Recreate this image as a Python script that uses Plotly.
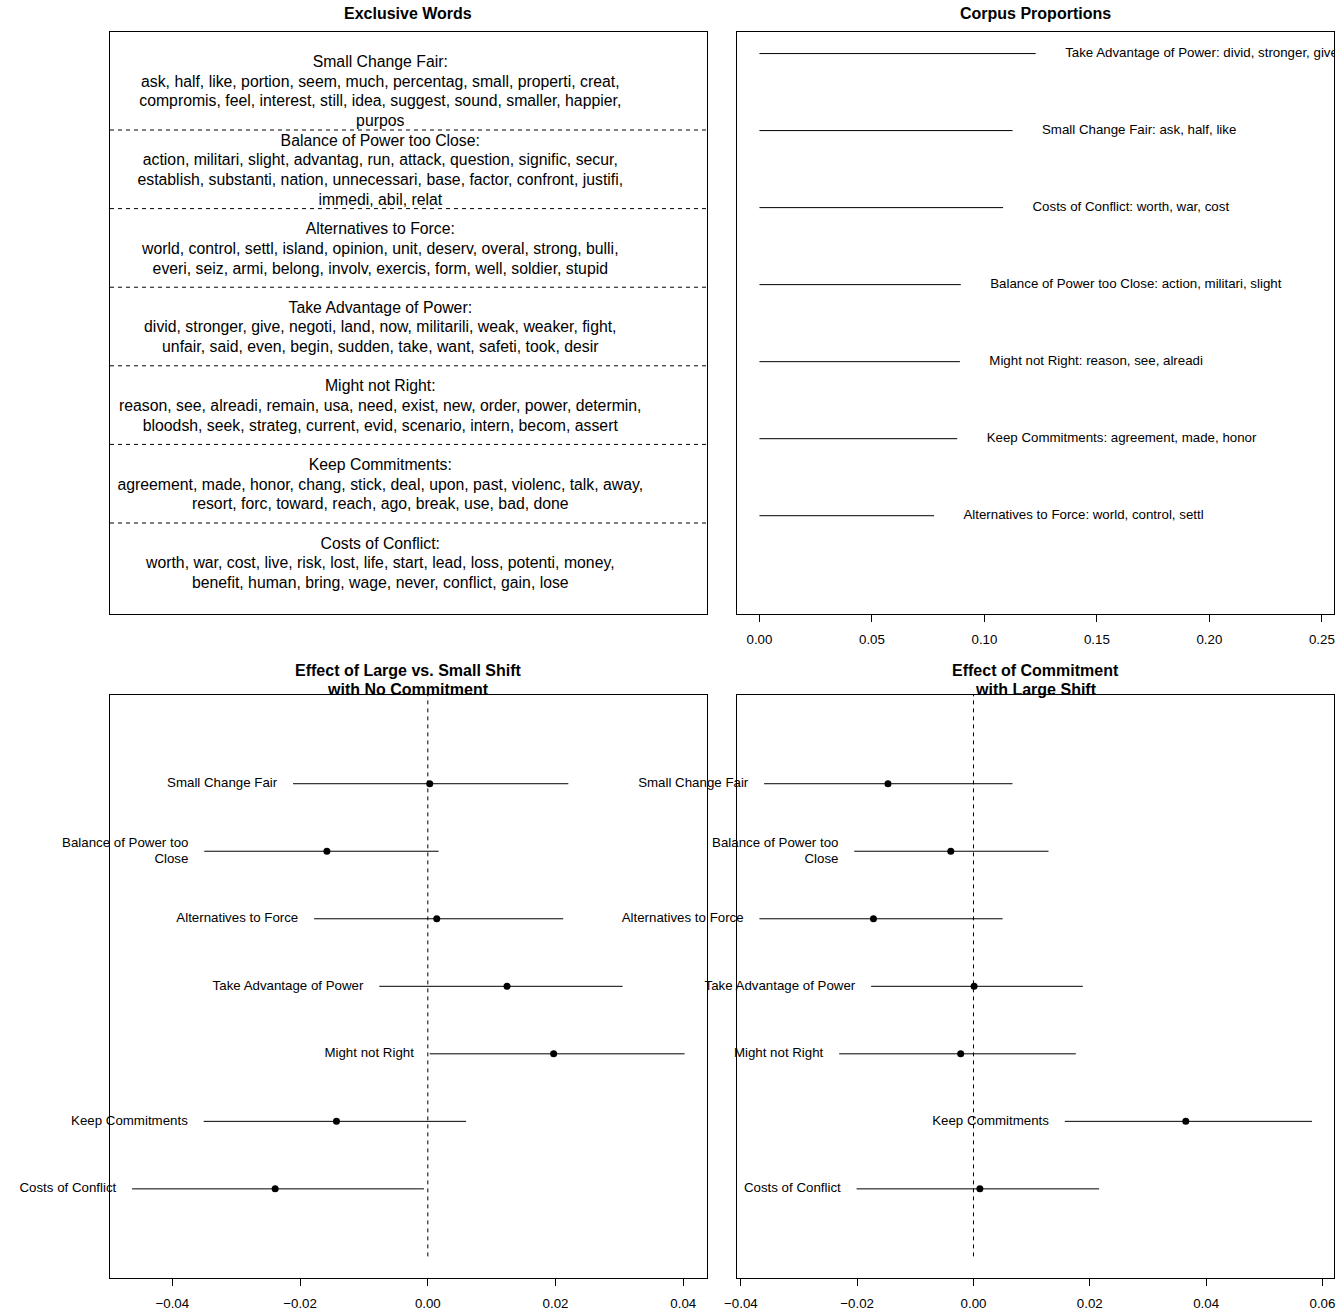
import textwrap
import plotly.graph_objects as go

# ---------------------------------------------------------------- data
topics = ["Small Change Fair", "Balance of Power too Close", "Alternatives to Force",
          "Take Advantage of Power", "Might not Right", "Keep Commitments",
          "Costs of Conflict"]

words_small_change = ["ask", "half", "like", "portion", "seem", "much", "percentag", "small",
                      "properti", "creat", "compromis", "feel", "interest", "still", "idea",
                      "suggest", "sound", "smaller", "happier", "purpos"]
words_balance = ["action", "militari", "slight", "advantag", "run", "attack", "question",
                 "signific", "secur", "establish", "substanti", "nation", "unnecessari", "base",
                 "factor", "confront", "justifi", "immedi", "abil", "relat"]
words_alternatives = ["world", "control", "settl", "island", "opinion", "unit", "deserv",
                      "overal", "strong", "bulli", "everi", "seiz", "armi", "belong", "involv",
                      "exercis", "form", "well", "soldier", "stupid"]
words_take_advantage = ["divid", "stronger", "give", "negoti", "land", "now", "militarili",
                        "weak", "weaker", "fight", "unfair", "said", "even", "begin", "sudden",
                        "take", "want", "safeti", "took", "desir"]
words_might = ["reason", "see", "alreadi", "remain", "usa", "need", "exist", "new", "order",
               "power", "determin", "bloodsh", "seek", "strateg", "current", "evid",
               "scenario", "intern", "becom", "assert"]
words_keep = ["agreement", "made", "honor", "chang", "stick", "deal", "upon", "past", "violenc",
              "talk", "away", "resort", "forc", "toward", "reach", "ago", "break", "use", "bad",
              "done"]
words_costs = ["worth", "war", "cost", "live", "risk", "lost", "life", "start", "lead", "loss",
               "potenti", "money", "benefit", "human", "bring", "wage", "never", "conflict",
               "gain", "lose"]
topic_words = [words_small_change, words_balance, words_alternatives, words_take_advantage,
               words_might, words_keep, words_costs]

# expected topic proportions over the corpus (same order as `topics`)
corpus_prop = [0.1125, 0.0895, 0.0776, 0.1228, 0.0891, 0.0879, 0.1083]

# effect of large vs. small shift, no commitment
shift_est = [0.0003, -0.0158, 0.0014, 0.0124, 0.0197, -0.0143, -0.0239]
shift_lo = [-0.0211, -0.0350, -0.0178, -0.0076, 0.0003, -0.0351, -0.0463]
shift_hi = [0.0220, 0.0017, 0.0212, 0.0305, 0.0402, 0.0060, -0.0006]

# effect of commitment, large shift
commit_est = [-0.0147, -0.0039, -0.0172, 0.0001, -0.0022, 0.0365, 0.0011]
commit_lo = [-0.0360, -0.0205, -0.0368, -0.0176, -0.0231, 0.0157, -0.0201]
commit_hi = [0.0067, 0.0129, 0.0050, 0.0188, 0.0176, 0.0582, 0.0216]

prop_ticks = [0.00, 0.05, 0.10, 0.15, 0.20, 0.25]
effect_ticks_shift = [-0.04, -0.02, 0.00, 0.02, 0.04]
effect_ticks_commit = [-0.04, -0.02, 0.00, 0.02, 0.04, 0.06]

# ---------------------------------------------------------------- layout geometry (px)
W, H = 1342, 1316
COL_L = (98, 701)
COL_R = (732, 1335)
ROW_T = (32, 614.3)
ROW_B = (694.6, 1278)
FONT = "Liberation Sans, Arial, Helvetica, sans-serif"
BASE = 13.3
K = len(topics)


def xdom(c):
    return [c[0] / W, c[1] / W]


def ydom(r):
    return [1 - r[1] / H, 1 - r[0] / H]


def pad_range(lo, hi, frac=0.04):
    d = (hi - lo) * frac
    return [lo - d, hi + d]


fig = go.Figure()

# ---------------------------------------------------------------- top-left: exclusive words
TL_YR = [-0.1616, 7.247]
tl_ppu = (ROW_T[1] - ROW_T[0]) / (TL_YR[1] - TL_YR[0])
LINE_PX = 19.7
WORD_SIZE = 15.8
tx, ty, tt = [], [], []
for i, (name, words) in enumerate(zip(topics, topic_words)):
    lines = [name + ":"] + textwrap.wrap(", ".join(words), width=77)
    centre = K - i - 0.5 - 2 / tl_ppu
    n = len(lines)
    for j, ln in enumerate(lines):
        tx.append(0.453)
        ty.append(centre + ((n - 1) / 2 - j) * LINE_PX / tl_ppu)
        tt.append(ln)
fig.add_trace(go.Scatter(x=tx, y=ty, text=tt, mode="text", textposition="middle center",
                         textfont=dict(size=WORD_SIZE, color="black", family=FONT),
                         hoverinfo="skip", xaxis="x", yaxis="y", showlegend=False))
for k in range(1, K):
    fig.add_shape(type="line", xref="x domain", yref="y", x0=0, x1=1, y0=k, y1=k,
                  line=dict(color="black", width=1, dash="4px,4px"))

# ---------------------------------------------------------------- top-right: corpus proportions
order = sorted(range(K), key=lambda i: corpus_prop[i])  # smallest at the bottom
TR_XR = pad_range(0, 2 * max(corpus_prop))
tr_ppu = (COL_R[1] - COL_R[0]) / (TR_XR[1] - TR_XR[0])
sx, sy = [], []
lx, ly, lt = [], [], []
for pos, i in enumerate(order, start=1):
    sx += [0, corpus_prop[i], None]
    sy += [pos, pos, None]
    lx.append(corpus_prop[i] + 0.01 + 7 / tr_ppu)
    ly.append(pos)
    lt.append(f"{topics[i]}: " + ", ".join(topic_words[i][:3]))
fig.add_trace(go.Scatter(x=sx, y=sy, mode="lines", line=dict(color="black", width=1),
                         hoverinfo="skip", xaxis="x2", yaxis="y2", showlegend=False))
fig.add_trace(go.Scatter(x=lx, y=ly, text=lt, mode="text", textposition="middle right",
                         cliponaxis=True,
                         textfont=dict(size=BASE, color="black", family=FONT),
                         hoverinfo="skip", xaxis="x2", yaxis="y2", showlegend=False))

# ---------------------------------------------------------------- bottom: effect plots
EFF_YR = [-0.32, K + 1.32]
eff_ppu_y = (ROW_B[1] - ROW_B[0]) / (EFF_YR[1] - EFF_YR[0])
LABEL_LINE_PX = 16


def effect_panel(est, lo, hi, xa, ya, col):
    xr = pad_range(min(lo), max(hi))
    ppu = (col[1] - col[0]) / (xr[1] - xr[0])
    ys = [K - i for i in range(K)]
    # reference line at zero
    fig.add_trace(go.Scatter(x=[0, 0], y=[0, K + 2], mode="lines",
                             line=dict(color="black", width=1, dash="4px,4px"),
                             hoverinfo="skip", xaxis=xa, yaxis=ya, showlegend=False))
    cx, cy = [], []
    for i in range(K):
        cx += [lo[i], hi[i], None]
        cy += [ys[i], ys[i], None]
    fig.add_trace(go.Scatter(x=cx, y=cy, mode="lines", line=dict(color="black", width=1),
                             hoverinfo="skip", xaxis=xa, yaxis=ya, showlegend=False))
    fig.add_trace(go.Scatter(x=est, y=ys, mode="markers",
                             marker=dict(color="black", size=7),
                             hoverinfo="skip", xaxis=xa, yaxis=ya, showlegend=False))
    # topic labels, wrapped and right-aligned to the left end of each interval
    gx, gy, gt = [], [], []
    for i in range(K):
        parts = textwrap.wrap(topics[i], width=24)
        n = len(parts)
        for j, p in enumerate(parts):
            gx.append(lo[i] - 16 / ppu)
            gy.append(ys[i] + ((n - 1) / 2 - j) * LABEL_LINE_PX / eff_ppu_y)
            gt.append(p)
    fig.add_trace(go.Scatter(x=gx, y=gy, text=gt, mode="text", textposition="middle left",
                             cliponaxis=False,
                             textfont=dict(size=BASE, color="black", family=FONT),
                             hoverinfo="skip", xaxis=xa, yaxis=ya, showlegend=False))
    return xr


BL_XR = effect_panel(shift_est, shift_lo, shift_hi, "x3", "y3", COL_L)
BR_XR = effect_panel(commit_est, commit_lo, commit_hi, "x4", "y4", COL_R)

# ---------------------------------------------------------------- axes
box = dict(showline=True, mirror=True, linecolor="black", linewidth=1, showgrid=False,
           zeroline=False, fixedrange=True)
noticks = dict(ticks="", showticklabels=False)
xticks = dict(ticks="outside", ticklen=7, tickwidth=1, tickcolor="black",
              tickformat=".2f", ticklabelstandoff=6,
              tickfont=dict(size=BASE, color="black", family=FONT))

fig.update_layout(
    width=W, height=H, margin=dict(l=0, r=0, t=0, b=0),
    paper_bgcolor="white", plot_bgcolor="white",
    font=dict(family=FONT, color="black"),
    xaxis=dict(domain=xdom(COL_L), range=[0, 1], anchor="y", **box, **noticks),
    yaxis=dict(domain=ydom(ROW_T), range=TL_YR, anchor="x", **box, **noticks),
    xaxis2=dict(domain=xdom(COL_R), range=TR_XR, anchor="y2", tickvals=prop_ticks,
                **box, **xticks),
    yaxis2=dict(domain=ydom(ROW_T), range=[-0.28, K + 0.28], anchor="x2", **box, **noticks),
    xaxis3=dict(domain=xdom(COL_L), range=BL_XR, anchor="y3", tickvals=effect_ticks_shift,
                **box, **xticks),
    yaxis3=dict(domain=ydom(ROW_B), range=EFF_YR, anchor="x3", **box, **noticks),
    xaxis4=dict(domain=xdom(COL_R), range=BR_XR, anchor="y4", tickvals=effect_ticks_commit,
                **box, **xticks),
    yaxis4=dict(domain=ydom(ROW_B), range=EFF_YR, anchor="x4", **box, **noticks),
)

# ---------------------------------------------------------------- panel titles
titles = [
    (["Exclusive Words"], COL_L, [14]),
    (["Corpus Proportions"], COL_R, [14]),
    (["Effect of Large vs. Small Shift", "with No Commitment"], COL_L, [670, 689.3]),
    (["Effect of Commitment", "with Large Shift"], COL_R, [670, 689.3]),
]
for lines, col, ys in titles:
    for ln, yp in zip(lines, ys):
        fig.add_annotation(text=f"<b>{ln}</b>", xref="paper", yref="paper",
                           x=(col[0] + col[1]) / 2 / W, y=1 - yp / H,
                           xanchor="center", yanchor="middle", showarrow=False,
                           font=dict(size=16, color="black", family=FONT))

fig.write_html("out.html")
